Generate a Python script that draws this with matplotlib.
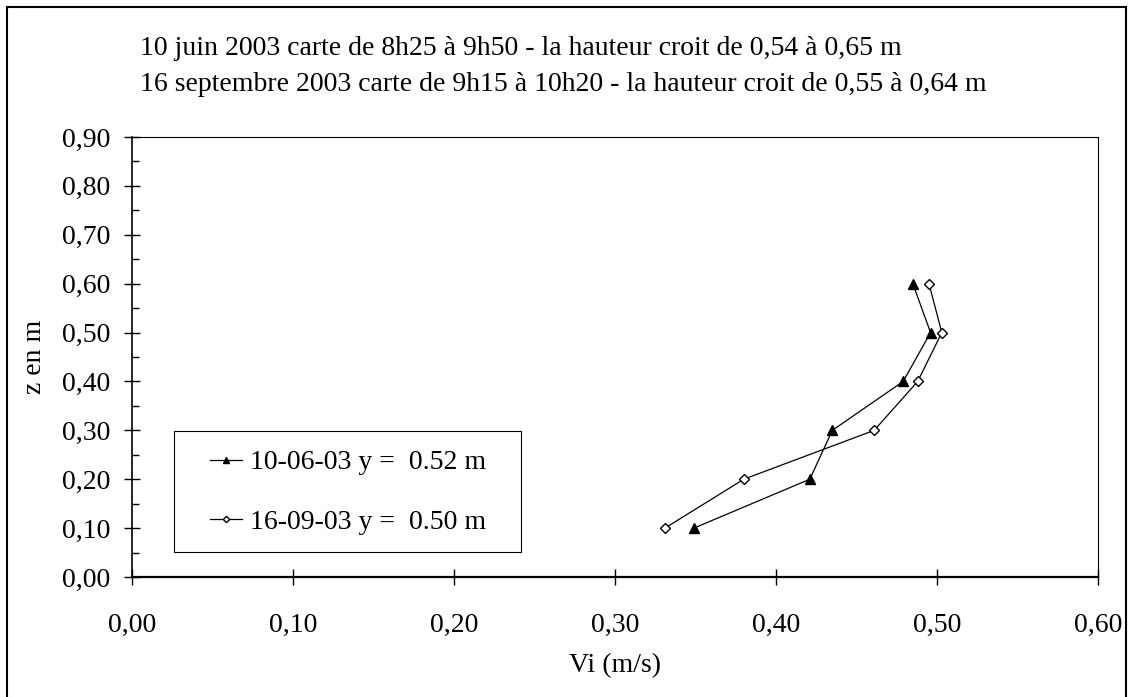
import matplotlib
matplotlib.use('Agg')
import matplotlib.pyplot as plt
from matplotlib.ticker import MultipleLocator, FuncFormatter
from matplotlib.patches import Rectangle

plt.rcParams['font.family'] = ['Liberation Serif', 'DejaVu Serif']

# profondeurs (m)
z = [0.10, 0.20, 0.30, 0.40, 0.50, 0.60]
# vitesses (m/s)
vi_juin = [0.349, 0.421, 0.435, 0.479, 0.496, 0.485]
vi_sept = [0.331, 0.380, 0.461, 0.488, 0.503, 0.495]

label_juin = '10-06-03 y =  0.52 m'
label_sept = '16-09-03 y =  0.50 m'
titre = ['10 juin 2003 carte de 8h25 à 9h50 - la hauteur croit de 0,54 à 0,65 m',
         '16 septembre 2003 carte de 9h15 à 10h20 - la hauteur croit de 0,55 à 0,64 m']

W, H = 1128, 697
FS = 20
# zone de tracé en pixels
L, R, T, B = 132, 1098, 137, 577

fig = plt.figure(figsize=(W / 100, H / 100), dpi=100)
ax = fig.add_axes([L / W, 1 - B / H, (R - L) / W, (B - T) / H])

ax.plot(vi_juin, z, color='black', lw=0.9, marker='^', ms=7.5,
        mfc='black', mec='black', label=label_juin)
ax.plot(vi_sept, z, color='black', lw=0.9, marker='D', ms=5,
        mfc='white', mec='black', mew=1.0, label=label_sept)

ax.set_xlim(0, 0.6)
ax.set_ylim(0, 0.9)
ax.xaxis.set_major_locator(MultipleLocator(0.1))
ax.yaxis.set_major_locator(MultipleLocator(0.1))
ax.yaxis.set_minor_locator(MultipleLocator(0.05))
fmt = FuncFormatter(lambda v, p: f'{v:.2f}'.replace('.', ','))
ax.xaxis.set_major_formatter(fmt)
ax.yaxis.set_major_formatter(fmt)

ax.tick_params(axis='both', which='major', direction='inout', length=11,
               width=1, labelsize=FS, colors='black')
ax.tick_params(axis='x', which='major', pad=20)
ax.tick_params(axis='y', which='major', pad=10)
ax.tick_params(axis='y', which='minor', direction='in', length=5, width=1)

for s in ['top', 'right']:
    ax.spines[s].set_linewidth(0.8)
ax.spines['left'].set_linewidth(1.2)
ax.spines['bottom'].set_linewidth(1.6)

ax.set_xlabel('Vi (m/s)', fontsize=FS)
ax.set_ylabel('z en m', fontsize=FS)
ax.xaxis.set_label_coords(0.5, (B - 653) / (B - T))
ax.yaxis.set_label_coords((47 - L) / (R - L), 0.5)

fig.text(140 / W, 1 - 55 / H, titre[0], fontsize=FS, va='baseline', ha='left')
fig.text(140 / W, 1 - 91 / H, titre[1], fontsize=FS, va='baseline', ha='left')

# cadre de la légende
ax.add_patch(Rectangle((174 / W, 1 - 552 / H), (521 - 174) / W, (552 - 431) / H,
                       transform=fig.transFigure, facecolor='white',
                       edgecolor='black', lw=0.8, zorder=4, clip_on=False))
leg = ax.legend(loc='upper left', bbox_to_anchor=(210 / W, 1 - 450 / H),
                bbox_transform=fig.transFigure, fontsize=FS, frameon=False,
                handlelength=1.15, handletextpad=0.3, labelspacing=1.22,
                borderpad=0, borderaxespad=0, markerscale=0.65)
leg.set_zorder(5)

# cadre extérieur (coupé en bas dans l'original)
fig.patches.append(Rectangle((7 / W, 1 - 712 / H), (1126 - 7) / W, (712 - 7) / H,
                             transform=fig.transFigure, fill=False,
                             edgecolor='black', lw=1.5))

fig.savefig('out.png', dpi=100)
